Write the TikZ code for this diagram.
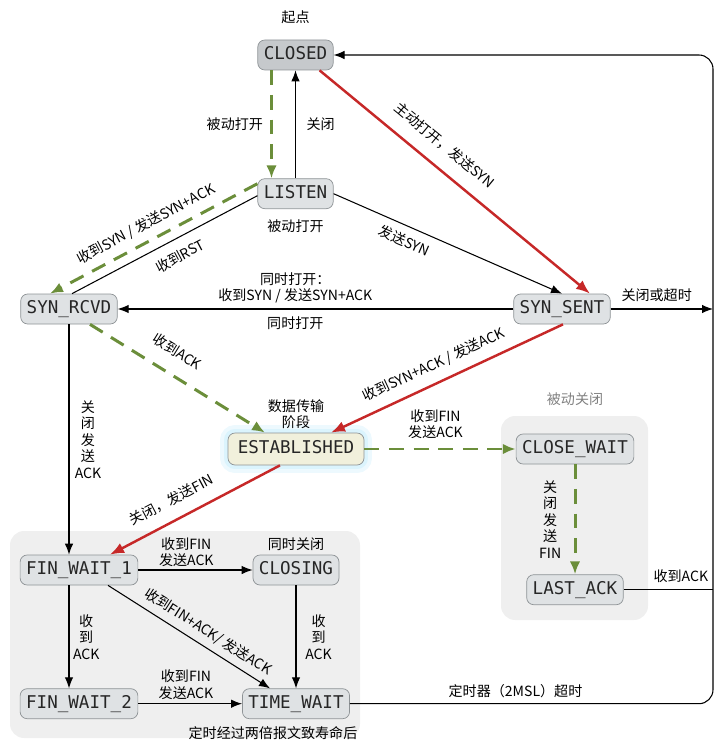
\documentclass[tikz,border=0pt]{standalone}
\usepackage{fontspec}
\setmonofont{DejaVu Sans Mono}
\newfontfamily\cjk{Noto Sans CJK SC}
\usetikzlibrary{positioning,arrows.meta}

\definecolor{stategray}{HTML}{DFE2E4}
\definecolor{closedgray}{HTML}{C6C9CC}
\definecolor{bordergray}{HTML}{8E9396}
\definecolor{estfill}{HTML}{F1F0DC}
\definecolor{redpath}{HTML}{C62828}
\definecolor{greenpath}{HTML}{6B8E3A}
\definecolor{panelgray}{HTML}{EFEFEF}

\begin{document}
\begin{tikzpicture}[
        stbox/.style={rectangle, draw=bordergray, fill=stategray, rounded corners=4pt, minimum height=0.6cm, inner xsep=3.4pt, inner ysep=1pt, text height=1.5ex, text depth=0.3ex, font=\ttfamily\fontsize{10}{12}\selectfont, text=black!85},
        lbl/.style={font=\cjk\fontsize{8}{9.4}\selectfont, inner sep=1pt, align=center, text=black},
        arr/.style={-{Latex[length=2.2mm, width=1.7mm]}, line width=0.6pt},
        thinline/.style={line width=0.6pt},
        redarr/.style={-{Latex[length=2.8mm, width=2.2mm]}, line width=1.4pt, redpath},
        grnarr/.style={-{Latex[length=2.6mm, width=2.1mm]}, line width=1.7pt, greenpath, dash pattern=on 8.5pt off 5.5pt},
        panel/.style={fill=panelgray, rounded corners=8pt},
    ]
    \useasboundingbox (0,0) rectangle (14.38,-14.9);

    % ----- Panels -----
    \fill[panel] (0.2,-10.62) rectangle (7.2,-14.76);
    \fill[panel] (10.02,-8.32) rectangle (12.96,-12.4);

    % ----- States -----
    \node[stbox, fill=closedgray] (closed) at (5.91,-1.1) {CLOSED};
    \node[stbox, below=2.16cm of closed] (listen) {LISTEN};
    \node[stbox] (synrcvd) at (1.38,-6.18) {SYN\_RCVD};
    \node[stbox] (synsent) at (11.24,-6.18) {SYN\_SENT};
    \node[stbox, fill=estfill, minimum height=0.64cm, minimum width=2.72cm,
          preaction={draw=cyan!7, line width=9pt},
          preaction={draw=cyan!14, line width=4.5pt}] (estab) at (5.92,-8.98) {ESTABLISHED};
    \node[stbox] (closewait) at (11.5,-8.98) {CLOSE\_WAIT};
    \node[stbox, below=2.2cm of closewait] (lastack) {LAST\_ACK};
    \node[stbox] (finwait1) at (1.58,-11.4) {FIN\_WAIT\_1};
    \node[stbox] (closing) at (estab |- finwait1) {CLOSING};
    \node[stbox, below=2.06cm of finwait1] (finwait2) {FIN\_WAIT\_2};
    \node[stbox, below=2.06cm of closing] (timewait) {TIME\_WAIT};

    \coordinate (rtop) at (14.26,-1.1);
    \coordinate (rbot) at (rtop |- timewait);

    % ----- Extra labels -----
    \node[lbl, above=8pt of closed] (startlbl) {起点};
    \node[lbl, below=5pt of listen] (listenlbl) {被动打开};
    \node[lbl, above=1pt of estab] (datalbl) {数据传输\\阶段};
    \node[lbl, above=1pt of closing] (simclose) {同时关闭};
    \node[lbl, below=3pt of timewait, xshift=-0.46cm] (twlbl) {定时经过两倍报文致寿命后};
    \node[lbl, text=gray] (passivelbl) at (11.5,-7.98) {被动关闭};

    % ----- Opening -----
    \draw[grnarr] ([xshift=-0.48cm]closed.south) -- node[left=3pt, lbl] {被动打开} ([xshift=-0.48cm]listen.north);
    \draw[arr] (listen) -- node[right=5pt, lbl] {关闭} (closed);
    \draw[redarr] ([xshift=-0.28cm]closed.south east) -- node[lbl, sloped, above=7pt, pos=0.41] {主动打开，发送SYN} ([xshift=0.56cm]synsent.north);
    \draw[arr] (listen.east) -- node[lbl, sloped, below=3.5pt, pos=0.335] {发送SYN} (synsent.north);
    \draw[grnarr] ([yshift=0.2cm]listen.west) -- node[lbl, sloped, above=3.4pt, pos=0.5] {收到SYN / 发送SYN+ACK} ([xshift=-0.38cm]synrcvd.north);
    \draw[thinline] ([xshift=0.06cm]synrcvd.north) -- node[lbl, sloped, below=4.8pt, pos=0.54] {收到RST} ([yshift=-0.04cm]listen.west);
    \draw[arr] (synsent) -- node[lbl, above=2pt, pos=0.551] {同时打开：\\收到SYN / 发送SYN+ACK} node[lbl, below=3pt, pos=0.551] {同时打开} (synrcvd);
    \draw[arr] (synsent.east) -- node[lbl, above=3pt, pos=0.45] {关闭或超时} (synsent.east -| rtop);

    % ----- Establishing -----
    \draw[grnarr] ([xshift=0.42cm]synrcvd.south) -- node[lbl, sloped, above=7.3pt, pos=0.43] {收到ACK} ([xshift=-0.62cm]estab.north);
    \draw[redarr] ([xshift=0.02cm]synsent.south) -- node[lbl, sloped, above=4.5pt, pos=0.525] {收到SYN+ACK / 发送ACK} ([xshift=0.7cm]estab.north);

    % ----- Passive close -----
    \draw[grnarr] (estab) -- node[lbl, above=4pt, pos=0.47] {收到FIN\\发送ACK} (closewait);
    \draw[grnarr] (closewait) -- node[lbl, left=6pt] {关\\闭\\发\\送\\FIN} (lastack);
    \draw[thinline] (lastack.east) -- node[lbl, above=3pt, pos=0.64] {收到ACK} (lastack.east -| rtop);

    % ----- Active close -----
    \draw[arr] (synrcvd.south) -- node[lbl, right=2pt] {关\\闭\\发\\送\\ACK} (synrcvd.south |- finwait1.north);
    \draw[redarr] ([xshift=-0.32cm]estab.south) -- node[lbl, sloped, above=5.9pt, pos=0.584] {关闭，发送FIN} ([xshift=0.62cm]finwait1.north);
    \draw[arr] (finwait1) -- node[lbl, above=0.5pt, pos=0.42] {收到FIN\\发送ACK} (closing);
    \draw[arr] ([xshift=0.58cm]finwait1.south) -- node[lbl, sloped, above=2.8pt, pos=0.57] {收到FIN+ACK/ 发送ACK} ([xshift=-0.52cm]timewait.north);
    \draw[arr] (synrcvd.south |- finwait1.south) -- node[lbl, right=1pt] {收\\到\\ACK} (synrcvd.south |- finwait2.north);
    \draw[arr] (closing) -- node[lbl, right=4pt] {收\\到\\ACK} (timewait);
    \draw[arr] (finwait2) -- node[lbl, above=1pt, pos=0.46] {收到FIN\\发送ACK} (timewait);

    % ----- Back to CLOSED -----
    \draw[arr, rounded corners=8pt] (timewait.east) -- node[lbl, above=2pt, pos=0.456] {定时器（2MSL）超时} (rbot) -- (rtop) -- (closed.east);

\end{tikzpicture}
\end{document}
